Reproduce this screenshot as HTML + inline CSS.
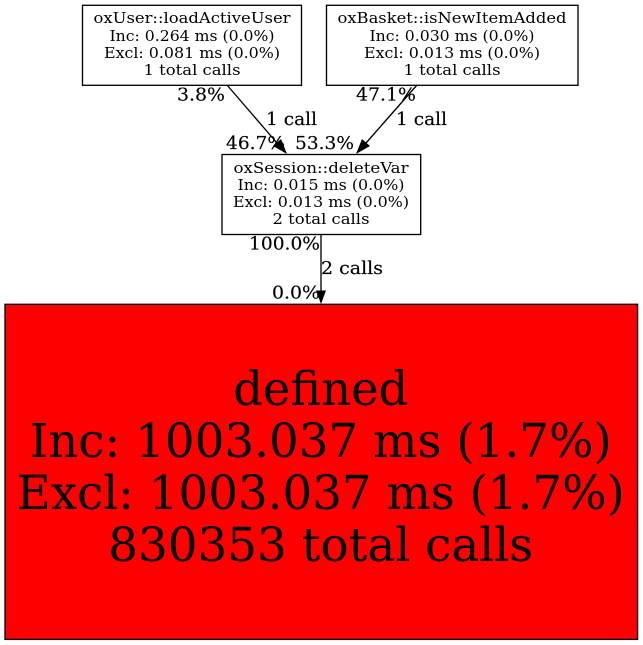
<!DOCTYPE html>
<html><head><meta charset="utf-8"><style>
html,body{margin:0;padding:0;background:#fff;width:643px;height:645px;overflow:hidden}
svg{display:block}
text{font-family:"DejaVu Serif",serif;fill:#000}
.n{font-size:14.67px;text-anchor:middle}
.e{font-size:18px;stroke:#000;stroke-width:.15}
.b{font-size:46.67px;text-anchor:middle}
rect,line{stroke-width:1.33}
</style></head><body>
<svg width="643" height="645" viewBox="0 0 643 645" xmlns="http://www.w3.org/2000/svg">
<rect x="82.5" y="5.3" width="219" height="80" fill="#fff" stroke="#000"/>
<text class="n" x="192" y="23" textLength="197" lengthAdjust="spacingAndGlyphs">oxUser::loadActiveUser</text>
<text class="n" x="192" y="41" textLength="165" lengthAdjust="spacingAndGlyphs">Inc: 0.264 ms (0.0%)</text>
<text class="n" x="192" y="58" textLength="176" lengthAdjust="spacingAndGlyphs">Excl: 0.081 ms (0.0%)</text>
<text class="n" x="192" y="75" textLength="97" lengthAdjust="spacingAndGlyphs">1 total calls</text>
<rect x="326.5" y="5.3" width="251.5" height="80" fill="#fff" stroke="#000"/>
<text class="n" x="452" y="23" textLength="229" lengthAdjust="spacingAndGlyphs">oxBasket::isNewItemAdded</text>
<text class="n" x="452" y="41" textLength="165" lengthAdjust="spacingAndGlyphs">Inc: 0.030 ms (0.0%)</text>
<text class="n" x="452" y="58" textLength="176" lengthAdjust="spacingAndGlyphs">Excl: 0.013 ms (0.0%)</text>
<text class="n" x="452" y="75" textLength="97" lengthAdjust="spacingAndGlyphs">1 total calls</text>
<rect x="222" y="154.5" width="198.7" height="80" fill="#fff" stroke="#000"/>
<text class="n" x="321" y="173" textLength="175" lengthAdjust="spacingAndGlyphs">oxSession::deleteVar</text>
<text class="n" x="321" y="190" textLength="167" lengthAdjust="spacingAndGlyphs">Inc: 0.015 ms (0.0%)</text>
<text class="n" x="321" y="207" textLength="176" lengthAdjust="spacingAndGlyphs">Excl: 0.013 ms (0.0%)</text>
<text class="n" x="321" y="224" textLength="97" lengthAdjust="spacingAndGlyphs">2 total calls</text>
<rect x="5" y="304.3" width="632.6" height="335.1" fill="#f00" stroke="#000"/>
<text class="b" x="320.7" y="405" textLength="175" lengthAdjust="spacingAndGlyphs">defined</text>
<text class="b" x="320.7" y="457" textLength="582" lengthAdjust="spacingAndGlyphs">Inc: 1003.037 ms (1.7%)</text>
<text class="b" x="320.7" y="509" textLength="608" lengthAdjust="spacingAndGlyphs">Excl: 1003.037 ms (1.7%)</text>
<text class="b" x="320.7" y="561" textLength="425" lengthAdjust="spacingAndGlyphs">830353 total calls</text>
<line x1="227" y1="85" x2="277" y2="143" stroke="#000"/>
<polygon points="287,154 273,146 281,139" fill="#000"/>
<line x1="417" y1="85" x2="366" y2="143" stroke="#000"/>
<polygon points="356,154 362,139 370,146" fill="#000"/>
<line x1="321" y1="235" x2="321" y2="291" stroke="#000"/>
<polygon points="321,304 316,290.5 326,290.5" fill="#000"/>
<text class="e" x="177" y="100.5" textLength="48" lengthAdjust="spacingAndGlyphs">3.8%</text>
<text class="e" x="266" y="125" textLength="51" lengthAdjust="spacingAndGlyphs">1 call</text>
<text class="e" x="226" y="149" textLength="59" lengthAdjust="spacingAndGlyphs">46.7%</text>
<text class="e" x="295" y="149" textLength="59" lengthAdjust="spacingAndGlyphs">53.3%</text>
<text class="e" x="356" y="100.5" textLength="60" lengthAdjust="spacingAndGlyphs">47.1%</text>
<text class="e" x="396" y="125" textLength="51" lengthAdjust="spacingAndGlyphs">1 call</text>
<text class="e" x="249" y="249.5" textLength="71" lengthAdjust="spacingAndGlyphs">100.0%</text>
<text class="e" x="321" y="274" textLength="62" lengthAdjust="spacingAndGlyphs">2 calls</text>
<text class="e" x="272" y="298.5" textLength="48" lengthAdjust="spacingAndGlyphs">0.0%</text>
</svg>
</body></html>
